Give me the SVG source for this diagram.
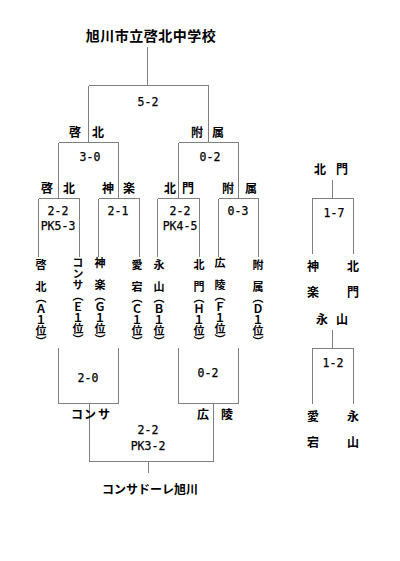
<svg xmlns="http://www.w3.org/2000/svg" width="400" height="561" viewBox="0 0 400 561">
<style>
.ln{fill:none;stroke:#808080;stroke-width:1;shape-rendering:crispEdges}
.t{font-family:"Noto Sans CJK JP","Noto Sans",sans-serif;font-weight:bold;font-size:12px;fill:#000;text-anchor:middle;dominant-baseline:central}
.ttl{font-size:14px}
.s{font-family:"DejaVu Sans Mono","Liberation Mono",monospace;font-size:11.5px;fill:#000;text-anchor:middle;dominant-baseline:central;stroke:#000;stroke-width:0.25px}
.v{font-family:"Noto Sans CJK JP",sans-serif;font-weight:bold;font-size:11px;fill:#000;writing-mode:vertical-rl}
.v2{font-family:"Noto Sans CJK JP",sans-serif;font-weight:bold;font-size:12px;fill:#000;writing-mode:vertical-rl;letter-spacing:1px}
</style>
<rect width="400" height="561" fill="#fff"/>
<g id="connectors">
<path class="ln" d="M147.5,47V85.5M88.5,85.5H208.5M88.5,85.5V142.5M208.5,85.5V142.5"/>
<path class="ln" d="M58.5,142.5H118.5M178.5,142.5H238.5M58.5,142.5V198.5M118.5,142.5V198.5M178.5,142.5V198.5M238.5,142.5V198.5"/>
<path class="ln" d="M38.5,198.5H79.5M98.5,198.5H139.5M157.5,198.5H199.5M218.5,198.5H258.5"/>
<path class="ln" d="M38.5,198.5V257M79.5,198.5V257M98.5,198.5V257M139.5,198.5V257M157.5,198.5V257M199.5,198.5V257M218.5,198.5V257M258.5,198.5V257"/>
<path class="ln" d="M58.5,348V403.5H118.5V348M178.5,348V403.5H238.5V348"/>
<path class="ln" d="M89.5,403.5V461.5H213.5V403.5M148.5,461.5V473"/>
<path class="ln" d="M332.5,180V198.5M312.5,254V198.5H353.5V254"/>
<path class="ln" d="M332.5,330V348.5M312.5,404V348.5H353.5V404"/>
</g>
<g id="title"><text class="t ttl" x="151" y="35" letter-spacing="0.5">旭川市立啓北中学校</text></g>
<g id="final">
<text class="s" x="148" y="102">5-2</text>
</g>
<g id="semi-labels">
<text class="t" x="75 98" y="131">啓北</text>
<text class="t" x="197 218" y="131">附属</text>
</g>
<g id="semi-scores">
<text class="s" x="90" y="157">3-0</text>
<text class="s" x="210" y="157">0-2</text>
</g>
<g id="qf-labels">
<text class="t" x="47 69" y="187">啓北</text>
<text class="t" x="108 129" y="187">神楽</text>
<text class="t" x="170 188" y="187">北門</text>
<text class="t" x="228 251" y="187">附属</text>
</g>
<g id="qf-scores">
<text class="s" x="58" y="211">2-2</text>
<text class="s" x="58" y="226">PK5-3</text>
<text class="s" x="118" y="211">2-1</text>
<text class="s" x="180" y="211">2-2</text>
<text class="s" x="180" y="226">PK4-5</text>
<text class="s" x="238" y="211">0-3</text>
</g>
<g id="teams">
<text class="v" x="41" y="259">啓　北（Ａ１位）</text>
<text class="v" x="78" y="257">コンサ（Ｅ１位）</text>
<text class="v" x="100" y="257">神　楽（Ｇ１位）</text>
<text class="v" x="137" y="259">愛　宕（Ｃ１位）</text>
<text class="v" x="159" y="259">永　山（Ｂ１位）</text>
<text class="v" x="199" y="259">北　門（Ｈ１位）</text>
<text class="v" x="220" y="257">広　陵（Ｆ１位）</text>
<text class="v" x="258" y="259">附　属（Ｄ１位）</text>
</g>
<g id="lower">
<text class="s" x="88" y="378">2-0</text>
<text class="s" x="208" y="373">0-2</text>
<text class="t" x="77 90 104" y="413">コンサ</text>
<text class="t" x="203 227" y="413">広陵</text>
<text class="s" x="148" y="430">2-2</text>
<text class="s" x="148" y="446">PK3-2</text>
<text class="t" x="150" y="488">コンサドーレ旭川</text>
</g>
<g id="side1">
<text class="t" x="320 342" y="168">北門</text>
<text class="s" x="334" y="213">1-7</text>
<text class="v2" x="313" y="260">神　楽</text>
<text class="v2" x="353" y="260">北　門</text>
</g>
<g id="side2">
<text class="t" x="322 342" y="318">永山</text>
<text class="s" x="333" y="363">1-2</text>
<text class="v2" x="313" y="410" letter-spacing="2">愛　宕</text>
<text class="v2" x="353" y="410" letter-spacing="2">永　山</text>
</g>
</svg>
